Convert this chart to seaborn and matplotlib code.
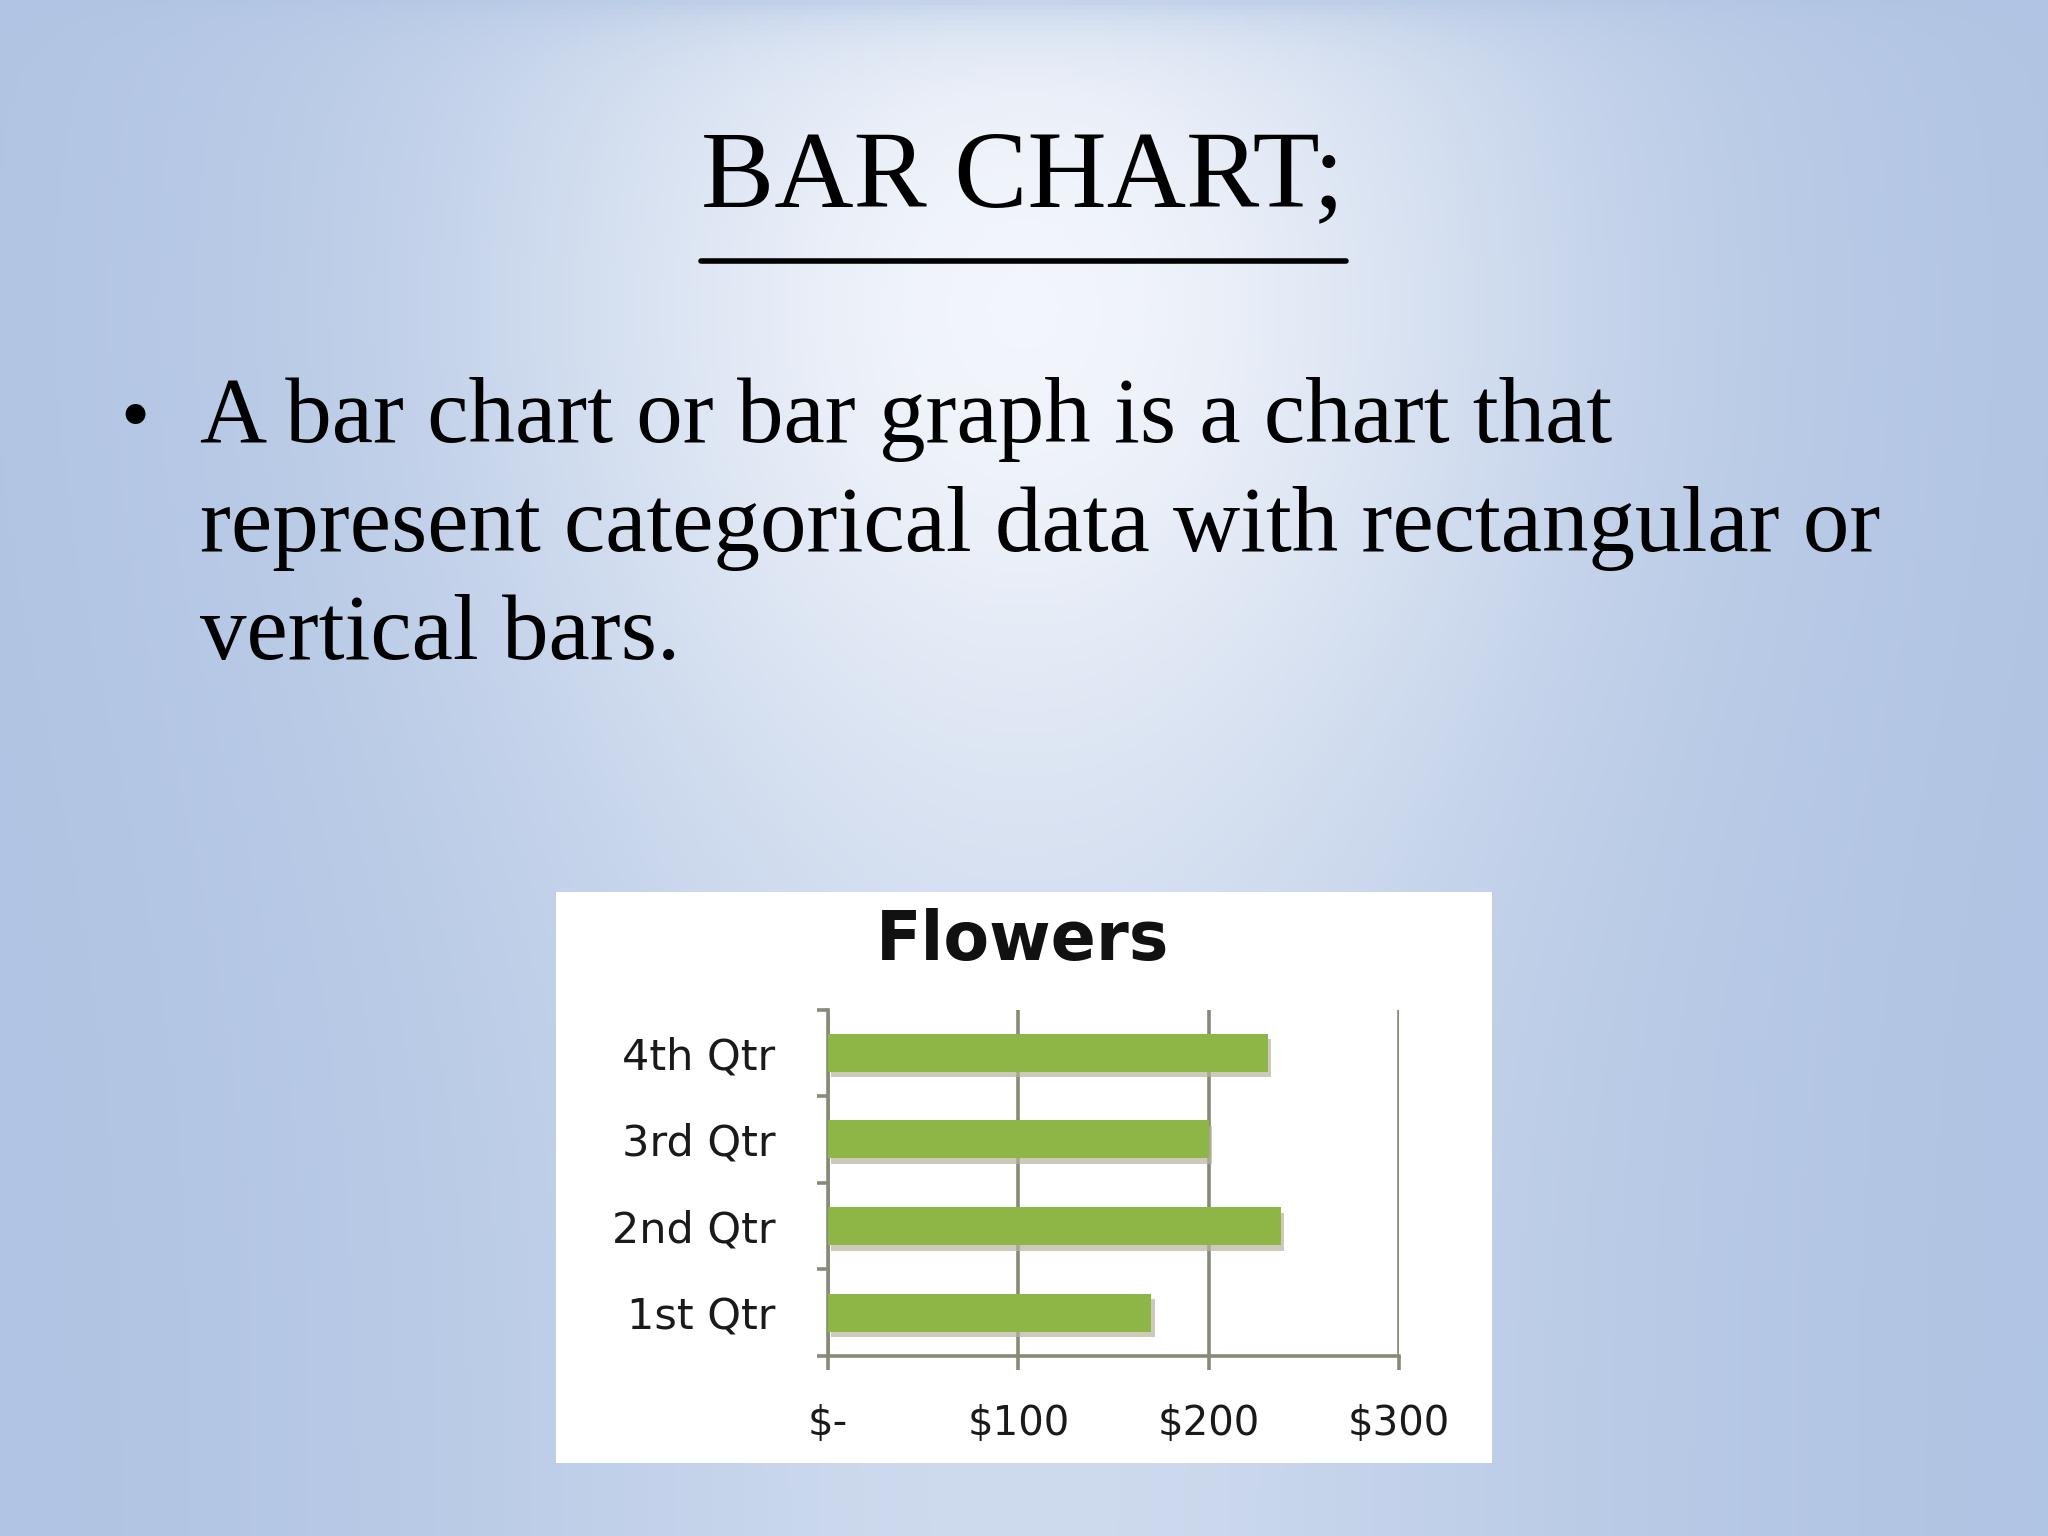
import numpy as np
import pandas as pd
import matplotlib
matplotlib.use("Agg")
import matplotlib.pyplot as plt
import matplotlib.patheffects as pe
from matplotlib.patches import Rectangle
from matplotlib.lines import Line2D
from matplotlib.ticker import FixedLocator
import seaborn as sns

# ---- data ----
quarters = ["1st Qtr", "2nd Qtr", "3rd Qtr", "4th Qtr"]
flowers = [170, 238, 200, 231]
x_ticks = [0, 100, 200, 300]
x_tick_labels = ["$-", "$100", "$200", "$300"]
slide_title = "BAR CHART;"
bullet_lines = ["A bar chart or bar graph is a chart that",
                "represent categorical data with rectangular or",
                "vertical bars."]
chart_title = "Flowers"

sns.set_theme(style="white")
plt.rcParams['font.family'] = ['DejaVu Sans']

fig = plt.figure(figsize=(10.24, 7.68), dpi=200)

# ---- background gradient ----
bg = fig.add_axes([0, 0, 1, 1], zorder=-10)
bg.set_axis_off()
ny, nx = 300, 400
yy, xx = np.mgrid[0:1:ny * 1j, 0:1:nx * 1j]  # yy: 0 top -> 1 bottom
h = np.exp(-((xx - 0.5) / 0.27) ** 2)
v = np.exp(-((yy - 0.2) / 0.32) ** 2)
b = h * (0.45 + 0.55 * v)
b *= (1 - 0.6 * np.exp(-yy / 0.02))
edge = np.array([0.690, 0.768, 0.890])
center = np.array([0.950, 0.962, 0.985])
img = edge[None, None, :] + (center - edge)[None, None, :] * b[..., None]
bg.imshow(img, aspect='auto', extent=[0, 1, 0, 1], origin='upper')
bg.set_xlim(0, 1)
bg.set_ylim(0, 1)

serif = ['Liberation Serif', 'DejaVu Serif']

# ---- slide title & underline ----
fig.text(0.4994, 0.883, slide_title, ha='center', va='center',
         fontsize=39.5, family=serif, color='black')
fig.add_artist(Line2D([0.3425, 0.657], [0.830, 0.830], transform=fig.transFigure,
                      color='black', lw=2.0))

# ---- bullet text ----
fig.text(0.059, 0.712, "\u2022", ha='left', va='baseline', fontsize=30,
         family=serif, color='black')
base_y = [0.712, 0.641, 0.571]
for line, y in zip(bullet_lines, base_y):
    fig.text(0.0975, y, line, ha='left', va='baseline', fontsize=33.5,
             family=serif, color='black')

# ---- white chart panel ----
fig.add_artist(Rectangle((0.2717, 0.0476), 0.4566, 0.3716, transform=fig.transFigure,
                         facecolor='white', edgecolor='none', zorder=0))

# ---- bar chart ----
ax = fig.add_axes([0.4043, 0.1173, 0.2787, 0.2254], zorder=2)
ax.set_facecolor('none')
df = pd.DataFrame({"Quarter": quarters, "Value": flowers})
order = quarters[::-1]
sns.barplot(data=df, x="Value", y="Quarter", order=order, orient='h',
            color='#8db646', saturation=1, width=0.44, ax=ax, zorder=3)
for p in ax.patches:
    p.set_edgecolor('none')
    p.set_path_effects([pe.SimplePatchShadow(offset=(1.2, -2.0), shadow_rgbFace='#b8b4a0', alpha=0.7),
                        pe.Normal()])

gridc = '#868b78'
ax.set_xlim(0, 300)
ax.set_ylim(3.5, -0.5)
ax.set_xticks(x_ticks)
ax.set_xticklabels(x_tick_labels)
ax.xaxis.grid(True, color=gridc, lw=1.3, zorder=1)
ax.set_axisbelow(True)
ax.yaxis.set_minor_locator(FixedLocator(np.arange(-0.5, len(quarters), 1.0)))
ax.tick_params(axis='y', which='major', length=0, pad=19, labelsize=15.5, labelcolor='#1a1a1a')
ax.tick_params(axis='y', which='minor', left=True, length=4, width=1.3, color=gridc)
ax.tick_params(axis='x', which='major', bottom=True, length=5, width=1.3, color=gridc,
               pad=12.5, labelsize=14.5, labelcolor='#1a1a1a')
for s in ['top', 'right']:
    ax.spines[s].set_visible(False)
for s in ['left', 'bottom']:
    ax.spines[s].set_color(gridc)
    ax.spines[s].set_linewidth(1.3)
ax.set_xlabel("")
ax.set_ylabel("")

fig.text(0.4994, 0.3875, chart_title, ha='center', va='center', fontsize=24,
         fontweight='bold', color='#111111')

fig.savefig("out.png", dpi=200)
